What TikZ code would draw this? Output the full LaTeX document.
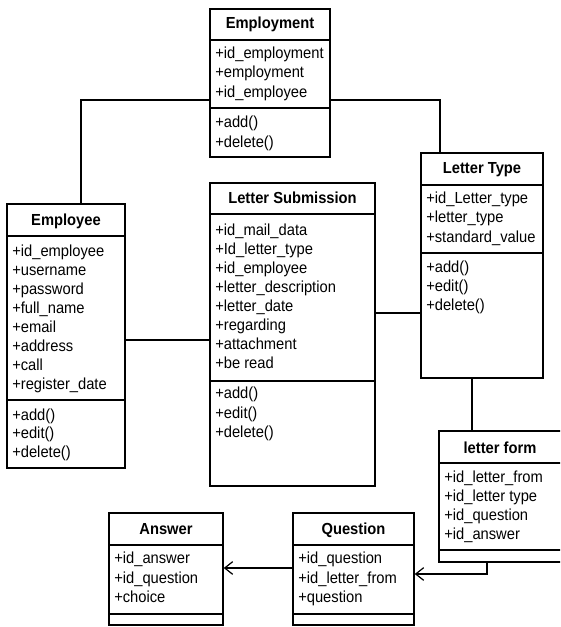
\documentclass[tikz,border=0pt]{standalone}
\usepackage{fontspec}
\setmainfont[FakeStretch=0.92]{Liberation Sans}
\usetikzlibrary{fit,arrows.meta,calc}
\tikzset{
 cls/.style={draw, line width=1.1pt, inner sep=0pt},
 sepline/.style={line width=1.1pt},
 head/.style={font=\bfseries\fontsize{12}{14}\selectfont, inner sep=0pt, anchor=base},
 attr/.style={font=\fontsize{12}{14}\selectfont, anchor=base west, inner sep=0pt},
 conn/.style={line width=0.9pt},
 arr/.style={conn, -{Straight Barb[length=6pt,width=9.5pt,line width=0.9pt]}},
}
\begin{document}
\begin{tikzpicture}[x=0.75pt,y=-0.75pt]
\clip (0,0) rectangle (560,627);
\fill[white] (0,0) rectangle (560,627);

% Employment
\node[cls, fit={(210,9) (330,157)}] (empl) {};
\draw[sepline] (210,40) -- (330,40);
\draw[sepline] (210,108) -- (330,108);
\node[head] (empl-h) at (270,29) {Employment};
\node[attr] (empl-a1) at (215,59) {+id\_employment};
\node[attr] (empl-a2) at (215,78) {+employment};
\node[attr] (empl-a3) at (215,98) {+id\_employee};
\node[attr] (empl-m1) at (215,128) {+add()};
\node[attr] (empl-m2) at (215,148) {+delete()};

% Employee
\node[cls, fit={(7,204) (125,468)}] (emp) {};
\draw[sepline] (7,236) -- (125,236);
\draw[sepline] (7,400) -- (125,400);
\node[head] (emp-h) at (66,225) {Employee};
\node[attr] (emp-a1) at (12,256) {+id\_employee};
\node[attr] (emp-a2) at (12,275) {+username};
\node[attr] (emp-a3) at (12,294) {+password};
\node[attr] (emp-a4) at (12,313) {+full\_name};
\node[attr] (emp-a5) at (12,332) {+email};
\node[attr] (emp-a6) at (12,351) {+address};
\node[attr] (emp-a7) at (12,370) {+call};
\node[attr] (emp-a8) at (12,389) {+register\_date};
\node[attr] (emp-m1) at (12,420) {+add()};
\node[attr] (emp-m2) at (12,438) {+edit()};
\node[attr] (emp-m3) at (12,457) {+delete()};

% Letter Submission
\node[cls, fit={(210,183) (375,486)}] (ls) {};
\draw[sepline] (210,214) -- (375,214);
\draw[sepline] (210,381) -- (375,381);
\node[head] (ls-h) at (292.5,204) {Letter Submission};
\node[attr] (ls-a1) at (215,235) {+id\_mail\_data};
\node[attr] (ls-a2) at (215,254) {+Id\_letter\_type};
\node[attr] (ls-a3) at (215,273) {+id\_employee};
\node[attr] (ls-a4) at (215,292) {+letter\_description};
\node[attr] (ls-a5) at (215,311) {+letter\_date};
\node[attr] (ls-a6) at (215,330) {+regarding};
\node[attr] (ls-a7) at (215,349) {+attachment};
\node[attr] (ls-a8) at (215,368) {+be read};
\node[attr] (ls-m1) at (215,398) {+add()};
\node[attr] (ls-m2) at (215,418) {+edit()};
\node[attr] (ls-m3) at (215,437) {+delete()};

% Letter Type
\node[cls, fit={(421,153) (543,378)}] (lt) {};
\draw[sepline] (421,185) -- (543,185);
\draw[sepline] (421,253) -- (543,253);
\node[head] (lt-h) at (482,174) {Letter Type};
\node[attr] (lt-a1) at (426,204) {+id\_Letter\_type};
\node[attr] (lt-a2) at (426,223) {+letter\_type};
\node[attr] (lt-a3) at (426,242) {+standard\_value};
\node[attr] (lt-m1) at (426,272) {+add()};
\node[attr] (lt-m2) at (426,291) {+edit()};
\node[attr] (lt-m3) at (426,310) {+delete()};

% letter form
\node[cls, fit={(439,431) (563,562)}] (lf) {};
\draw[sepline] (439,463) -- (563,463);
\draw[sepline] (439,550) -- (563,550);
\node[head] (lf-h) at (500,453) {letter form};
\node[attr] (lf-a1) at (444,482) {+id\_letter\_from};
\node[attr] (lf-a2) at (444,501) {+id\_letter type};
\node[attr] (lf-a3) at (444,520) {+id\_question};
\node[attr] (lf-a4) at (444,539) {+id\_answer};

% Question
\node[cls, fit={(293,513) (414,625)}] (q) {};
\draw[sepline] (293,545) -- (414,545);
\draw[sepline] (293,614) -- (414,614);
\node[head] (q-h) at (353.5,534) {Question};
\node[attr] (q-a1) at (298,563) {+id\_question};
\node[attr] (q-a2) at (298,583) {+id\_letter\_from};
\node[attr] (q-a3) at (298,602) {+question};

% Answer
\node[cls, fit={(109,513) (223,625)}] (a) {};
\draw[sepline] (109,545) -- (223,545);
\draw[sepline] (109,614) -- (223,614);
\node[head] (a-h) at (166,534) {Answer};
\node[attr] (a-a1) at (114,563) {+id\_answer};
\node[attr] (a-a2) at (114,583) {+id\_question};
\node[attr] (a-a3) at (114,602) {+choice};

% connectors
\draw[conn] (empl.west |- 0,100) -| (emp.north -| 81,0);
\draw[conn] (empl.east |- 0,100) -| (lt.north -| 440,0);
\draw[conn] (emp.east |- 0,340) -- (ls.west |- 0,340);
\draw[conn] (ls.east |- 0,313) -- (lt.west |- 0,313);
\draw[conn] (lt.south -| 472,0) -- (lf.north -| 472,0);
\draw[arr] (lf.south -| 487,0) |- (q.east |- 0,574);
\draw[arr] (q.west |- 0,568) -- (a.east |- 0,568);
\end{tikzpicture}
\end{document}
